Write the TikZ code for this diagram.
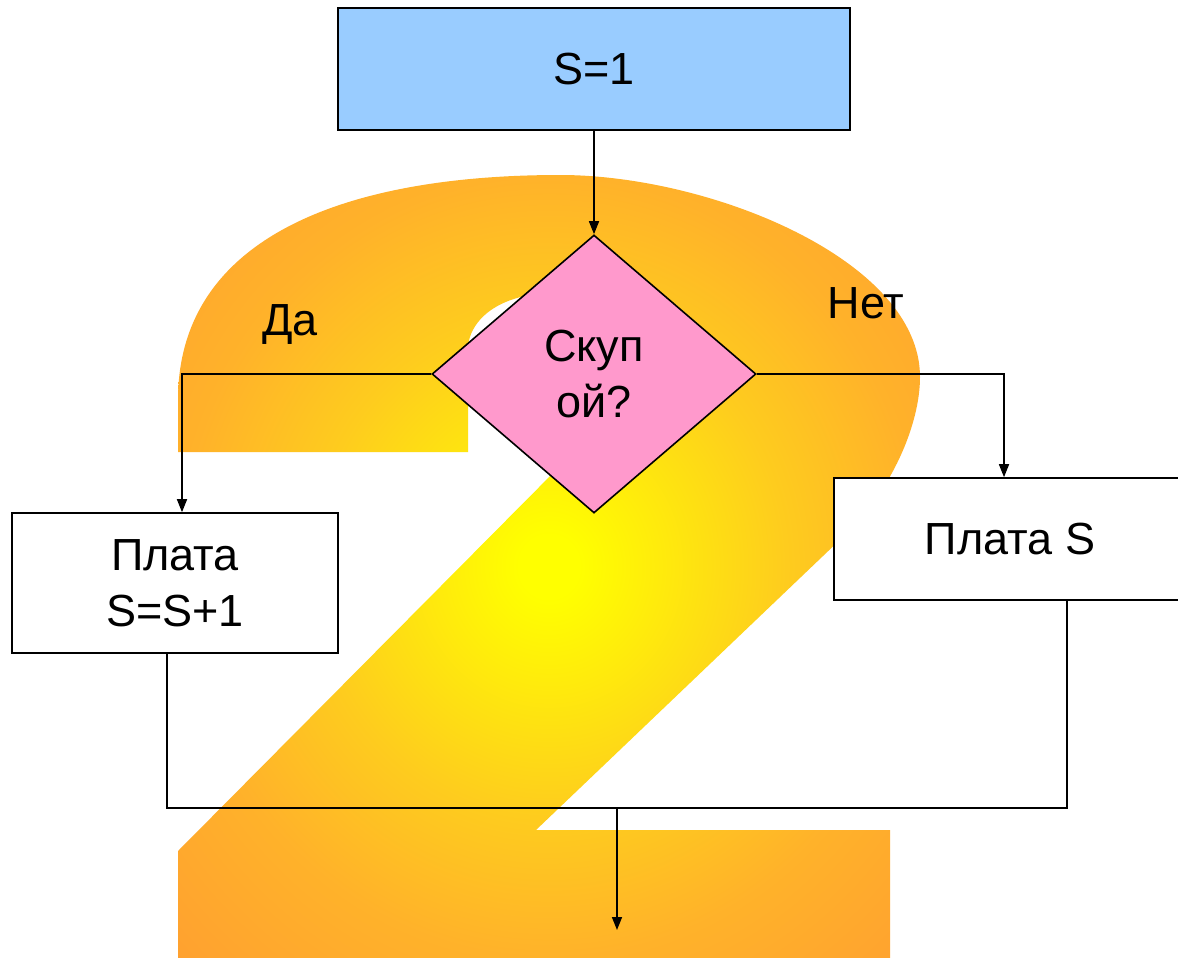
\documentclass[tikz,border=0pt]{standalone}
\usepackage{fontspec}
\setmainfont{Liberation Sans}
\usetikzlibrary{shapes.geometric,arrows.meta}
\definecolor{kasten}{HTML}{99CCFF}
\definecolor{raute}{HTML}{FF99CC}
\definecolor{glutinnen}{HTML}{FFFF00}
\definecolor{glutmitte}{HTML}{FECC1E}
\definecolor{glutrand}{HTML}{FFB22A}
\definecolor{glutaussen}{HTML}{FFA030}
\pgfdeclareradialshading{zweiglut}{\pgfpoint{0bp}{0bp}}{color(0bp)=(glutinnen); color(2bp)=(glutinnen); color(16bp)=(glutmitte); color(25bp)=(glutrand); color(36bp)=(glutaussen); color(50bp)=(glutaussen)}
\begin{document}
\begin{tikzpicture}[x=1pt,y=-1pt,line width=1.6pt,
		every node/.style={font=\fontsize{45}{56}\selectfont},
		kastenform/.style={draw,rectangle,inner sep=0pt,align=center},
		rautenform/.style={draw,diamond,fill=raute,inner sep=0pt,minimum width=324pt,minimum height=278pt,align=center},
		fluss/.style={-{Triangle[width=10pt,length=13pt]}}]
			\useasboundingbox (0,0) rectangle (1178,958);
			\clip (0,0) rectangle (1178,958);
			\fill[white] (0,0) rectangle (1178,958);
			% Ziffer 2 im Hintergrund
			\shade[shading=zweiglut] (178,452) to (178,400)%
				% obere Rundung
				.. controls (178,240) and (340,175) .. (560,175)%
				.. controls (710,175) and (920,260) .. (920,377)%
				.. controls (920,425) and (891,491) .. (845,535)%
				% Schraege und Fuss
				to (536,830) to (890,830) to (890,958) to (178,958) to (178,851) to (570,456)%
				% Innenbogen
				.. controls (620,405) and (650,330) .. (600,300)%
				.. controls (540,282) and (475,300) .. (468,345)%
				to (468,452) to cycle;
			\node[kastenform,fill=kasten,minimum width=512pt,minimum height=122pt] (start) at (594,69) {S=1};
			\node[rautenform] (frage) at (594,374) {Скуп\\ой?};
			\node[kastenform,fill=white,minimum width=326pt,minimum height=140pt] (plus) at (175,583) {Плата\\S=S+1};
			\node[kastenform,fill=white,minimum width=352pt,minimum height=122pt] (zahl) at (1010,539) {Плата S};
			\node[anchor=base] (ja) at (290,335) {Да};
			\node[anchor=base] (nein) at (866,318) {Нет};
			\coordinate (treff) at (617,808);
			\coordinate (ende) at (617,930);
			\draw[fluss] (start) to (frage);
			\draw[fluss] (frage.west) -| ([xshift=7pt]plus.north);
			\draw[fluss] (frage.east) -| ([xshift=-6pt]zahl.north);
			\draw ([xshift=-8pt]plus.south) |- (treff) -| ([xshift=57pt]zahl.south);
			\draw[fluss] (treff) to (ende);
\end{tikzpicture}
\end{document}
